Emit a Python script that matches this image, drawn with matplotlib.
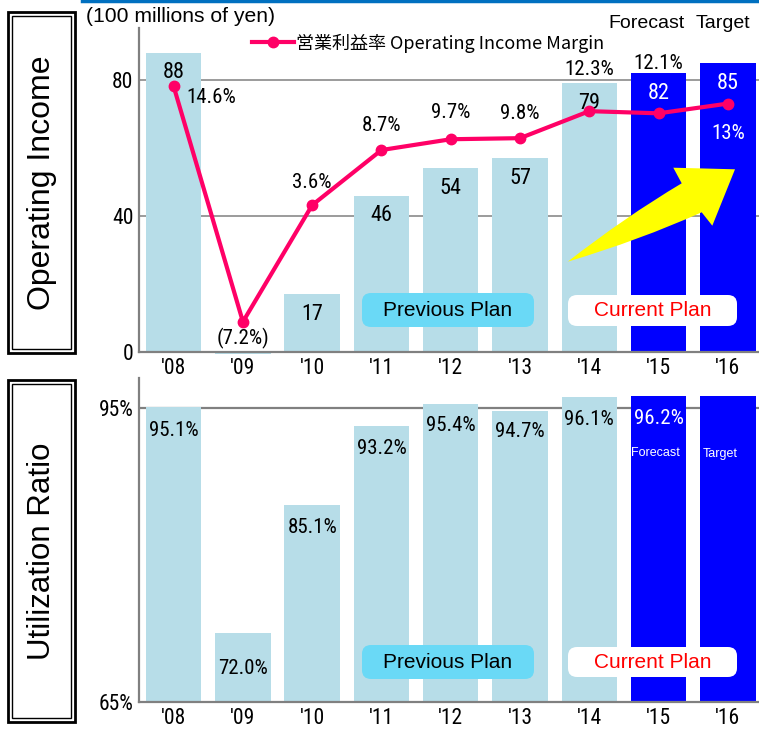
import matplotlib
matplotlib.use('Agg')
import matplotlib.pyplot as plt
from matplotlib.patches import Rectangle, FancyBboxPatch, PathPatch
from matplotlib.path import Path
from matplotlib.lines import Line2D

# ── DATA ────────────────────────────────────────────────────
years = ["'08", "'09", "'10", "'11", "'12", "'13", "'14", "'15", "'16"]
plan = ['prev', 'prev', 'prev', 'prev', 'prev', 'prev', 'prev', 'cur', 'cur']

op_income = [88, -0.5, 17, 46, 54, 57, 79, 82, 85]          # 100 millions of yen
op_income_labels = ['88', '', '17', '46', '54', '57', '79', '82', '85']

margin = [14.6, -7.2, 3.6, 8.7, 9.7, 9.8, 12.3, 12.1, 13.0]  # %
margin_labels = ['14.6%', '(7.2%)', '3.6%', '8.7%', '9.7%', '9.8%',
                 '12.3%', '12.1%', '13%']

util = [95.1, 72.0, 85.1, 93.2, 95.4, 94.7, 96.1, 96.2, 96.2]  # %
util_labels = ['95.1%', '72.0%', '85.1%', '93.2%', '95.4%', '94.7%',
               '96.1%', '96.2%', '']

# ── STYLE ───────────────────────────────────────────────────
W, H = 759, 735
LIGHT = '#B7DDE8'
BLUE = '#0000FF'
PINK = '#FF0066'
GRID = '#808080'
NUM_FONT = ['Roboto Condensed', 'DejaVu Sans']
TXT_FONT = ['Liberation Sans', 'DejaVu Sans']
JP_FONT = ['Noto Sans CJK JP', 'DejaVu Sans']

bar_colors = [LIGHT if p == 'prev' else BLUE for p in plan]
txt_colors = ['black' if p == 'prev' else 'white' for p in plan]

# margin label offsets in pixels from marker
margin_offsets = [(38, -11), (0, -17), (0, 23), (0, 25), (0, 27),
                  (0, 25), (0, 42), (0, 50), (0, -30)]
util_offsets = [-23, -35, -22, -23, -21, -21, -22, -22, -22]


def fx(px):
    return px / W


def fy(py):
    return 1 - py / H


fig = plt.figure(figsize=(W / 100, H / 100), dpi=100)

ax_top = fig.add_axes([fx(139), fy(352), fx(759) - fx(139), fy(28) - fy(352)])
ax_bot = fig.add_axes([fx(139), fy(702), fx(759) - fx(139), fy(378) - fy(702)])

xs = list(range(len(years)))

for ax in (ax_top, ax_bot):
    for s in ('top', 'right'):
        ax.spines[s].set_visible(False)
    for s in ('left', 'bottom'):
        ax.spines[s].set_color(GRID)
        ax.spines[s].set_linewidth(1.6)
    ax.tick_params(length=0, pad=4, labelsize=15.5)
    ax.set_xlim(-0.5, 8.45)
    ax.set_xticks(xs)
    ax.set_xticklabels(years, family=NUM_FONT)

# ── TOP PANEL: OPERATING INCOME ─────────────────────────────
ax_top.set_ylim(0, 95.3)
ax_top.set_yticks([0, 40, 80])
ax_top.set_yticklabels(['0', '40', '80'], family=NUM_FONT)
for g in (40, 80):
    ax_top.axhline(g, color=GRID, lw=1.1, zorder=0)
ax_top.bar(xs, op_income, width=0.8, color=bar_colors, zorder=2, clip_on=False)
for x, v, t, c in zip(xs, op_income, op_income_labels, txt_colors):
    if t:
        ax_top.annotate(t, (x, v), xytext=(0, -20), textcoords='offset pixels',
                        ha='center', va='center', fontsize=16, color=c,
                        family=NUM_FONT, zorder=5)

ax2 = ax_top.twinx()
ax2.set_ylim(-10, 20)
ax2.axis('off')
ax2.plot(xs, margin, color=PINK, lw=3, marker='o', ms=7.5, zorder=4,
         label='営業利益率 Operating Income Margin')
for x, v, t, off, p in zip(xs, margin, margin_labels, margin_offsets, plan):
    col = 'white' if (p == 'cur' and off[1] < 0) else 'black'
    ax2.annotate(t, (x, v), xytext=off, textcoords='offset pixels',
                 ha='center', va='center', fontsize=15, color=col,
                 family=NUM_FONT, zorder=6)

ax2.legend(loc='center left', bbox_to_anchor=(fx(252), fy(43)),
           bbox_transform=fig.transFigure, frameon=False, borderpad=0,
           borderaxespad=0, handlelength=2.3, handletextpad=0.15,
           prop={'family': JP_FONT, 'size': 13})

# yellow arrow (decoration, drawn in figure pixels)
arrow_pts = [(567.7, 261.7), (625, 217), (681.7, 183.3), (673.3, 167.7),
             (735, 169.3), (712.3, 225.7), (701.7, 212.3), (640, 240),
             (567.7, 261.7), (567.7, 261.7)]
arrow_codes = [Path.MOVETO, Path.CURVE3, Path.CURVE3, Path.LINETO, Path.LINETO,
               Path.LINETO, Path.LINETO, Path.CURVE3, Path.CURVE3, Path.CLOSEPOLY]
arrow_path = Path([(fx(px), fy(py)) for px, py in arrow_pts], arrow_codes)
fig.patches.append(PathPatch(arrow_path, transform=fig.transFigure,
                             fc='#FFFF00', ec='none', zorder=9))

# ── BOTTOM PANEL: UTILIZATION RATIO ─────────────────────────
ax_bot.set_ylim(65, 98.06)
ax_bot.set_yticks([65, 95])
ax_bot.set_yticklabels(['65%', '95%'], family=NUM_FONT)
ax_bot.axhline(95, color=GRID, lw=1.6, zorder=0)
ax_bot.bar(xs, util, width=0.8, color=bar_colors, zorder=2)
for x, v, t, c, off in zip(xs, util, util_labels, txt_colors, util_offsets):
    if t:
        ax_bot.annotate(t, (x, v), xytext=(0, off), textcoords='offset pixels',
                        ha='center', va='center', fontsize=15, color=c,
                        family=NUM_FONT, zorder=5)
ax_bot.annotate('Forecast', (7, 96.2), xytext=(-3, -57), textcoords='offset pixels',
                ha='center', va='center', fontsize=9, color='white', family=TXT_FONT)
ax_bot.annotate('Target', (8, 96.2), xytext=(-8, -58), textcoords='offset pixels',
                ha='center', va='center', fontsize=9, color='white', family=TXT_FONT)


# ── PLAN BOXES ──────────────────────────────────────────────
def plan_box(x0, y0, x1, y1, face, text, tcolor):
    box = FancyBboxPatch((fx(x0), fy(y1)), fx(x1) - fx(x0), fy(y0) - fy(y1),
                         boxstyle='round,pad=0,rounding_size=0.012',
                         transform=fig.transFigure, fc=face, ec='none', zorder=10)
    fig.patches.append(box)
    fig.text(fx((x0 + x1) / 2), fy((y0 + y1) / 2), text, ha='center', va='center',
             fontsize=15, color=tcolor, family=TXT_FONT, zorder=11)


plan_box(362, 293, 534, 327, '#6AD9F6', 'Previous Plan', 'black')
plan_box(568, 295, 737, 326, 'white', 'Current Plan', 'red')
plan_box(362, 645, 534, 679, '#6AD9F6', 'Previous Plan', 'black')
plan_box(568, 647, 737, 677, 'white', 'Current Plan', 'red')


# ── SIDE TITLES (double-border boxes) ───────────────────────
def side_box(y0, y1, text, size):
    outer = Rectangle((fx(8), fy(y1)), fx(75) - fx(8), fy(y0) - fy(y1),
                      transform=fig.transFigure, fill=False, ec='black', lw=2)
    inner = Rectangle((fx(12), fy(y1 - 4)), fx(71) - fx(12), fy(y0 + 4) - fy(y1 - 4),
                      transform=fig.transFigure, fill=False, ec='black', lw=1)
    fig.patches.extend([outer, inner])
    fig.text(fx(42), fy((y0 + y1) / 2), text, rotation=90, ha='center', va='center',
             fontsize=size, family=TXT_FONT)


side_box(12, 353, 'Operating Income', 23)
side_box(380, 722, 'Utilization Ratio', 22.5)

# ── HEADER TEXT ─────────────────────────────────────────────
fig.text(fx(86), fy(16), '(100 millions of yen)', ha='left', va='center',
         fontsize=15.2, family=TXT_FONT)
fig.text(fx(647), fy(23), 'Forecast', ha='center', va='center',
         fontsize=14, family=TXT_FONT)
fig.text(fx(723), fy(23), 'Target', ha='center', va='center',
         fontsize=14, family=TXT_FONT)
fig.add_artist(Line2D([fx(82), 1], [fy(1), fy(1)], color='#0070C0', lw=2.5,
                      transform=fig.transFigure))

fig.savefig('out.png', dpi=100)
